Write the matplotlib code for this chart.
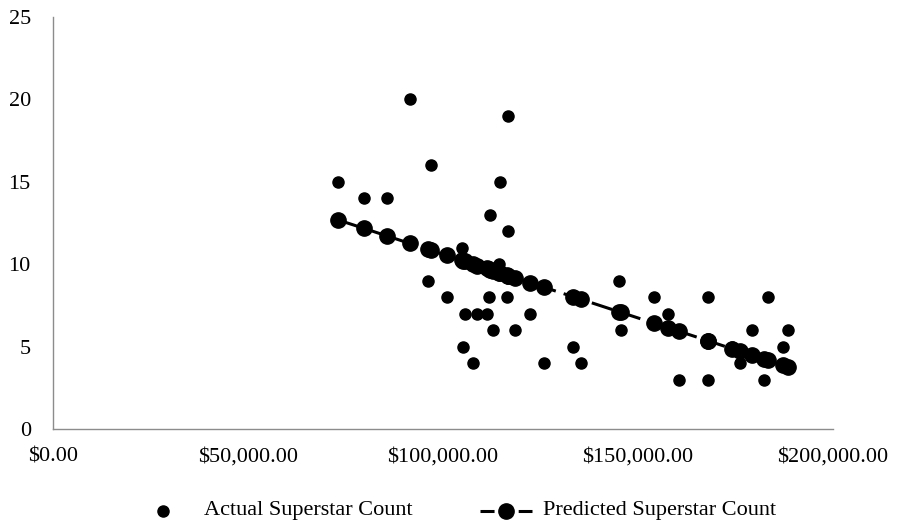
import matplotlib
matplotlib.use("Agg")
import matplotlib.pyplot as plt
from matplotlib.lines import Line2D
from matplotlib.ticker import FuncFormatter, MultipleLocator

# Salary (USD) per team and superstar counts
salary = [73150, 79800, 85700, 91500, 96200, 96900, 100900, 104900, 105050, 105600,
          107600, 108800, 111200, 111900, 112100, 112900, 114400, 114600, 116300, 116700,
          116700, 118500, 122300, 125900, 133300, 135400, 145050, 145600, 154100, 157700,
          160500, 167900, 168000, 174000, 176200, 179200, 182300, 183300, 187100, 188500]
actual = [15, 14, 14, 20, 9, 16, 8, 11, 5, 7,
          4, 7, 7, 8, 13, 6, 10, 15, 8, 12,
          19, 6, 7, 4, 5, 4, 9, 6, 8, 7,
          3, 8, 3, 5, 4, 6, 3, 8, 5, 6]
predicted = [12.68, 12.17, 11.71, 11.26, 10.90, 10.84, 10.53, 10.23, 10.21, 10.17,
             10.02, 9.92, 9.74, 9.68, 9.67, 9.61, 9.49, 9.48, 9.35, 9.31,
             9.31, 9.17, 8.88, 8.60, 8.03, 7.87, 7.12, 7.08, 6.42, 6.15,
             5.93, 5.36, 5.35, 4.88, 4.71, 4.48, 4.24, 4.16, 3.87, 3.76]

series_names = ["Actual Superstar Count", "Predicted Superstar Count"]

plt.rcParams["font.family"] = ["Liberation Serif", "DejaVu Serif"]
FS = 16

W, H = 906, 525
fig = plt.figure(figsize=(W / 100, H / 100), dpi=100)
ax = fig.add_axes([53 / W, 1 - 429 / H, (833 - 53) / W, (429 - 17) / H])

pred_style = dict(color="black", linestyle=(0, (7, 2.7)), linewidth=2.2,
                  marker="o", markersize=11)
act_style = dict(color="black", linestyle="none", marker="o", markersize=8)

ax.plot(salary, predicted, zorder=2, **pred_style)
ax.plot(salary, actual, zorder=3, **act_style)

ax.set_xlim(0, 200000)
ax.set_ylim(0, 25)
ax.xaxis.set_major_locator(MultipleLocator(50000))
ax.yaxis.set_major_locator(MultipleLocator(5))
ax.xaxis.set_major_formatter(FuncFormatter(lambda v, p: f"${v:,.2f}"))
ax.yaxis.set_major_formatter(FuncFormatter(lambda v, p: f"{v:.0f}"))
ax.tick_params(axis="both", length=0, labelsize=FS, colors="black")
ax.tick_params(axis="y", pad=16)
ax.tick_params(axis="x", pad=13)

for side in ("top", "right"):
    ax.spines[side].set_visible(False)
for side in ("left", "bottom"):
    ax.spines[side].set_color("#8c8c8c")
    ax.spines[side].set_linewidth(1.0)

# Legend drawn below the axes
ly = 1 - 511 / H
fig.add_artist(Line2D([163 / W], [ly], transform=fig.transFigure, **act_style))
fig.text(204 / W, ly, series_names[0], fontsize=FS, va="center", ha="left")
fig.add_artist(Line2D([480 / W, 532 / W], [ly, ly], transform=fig.transFigure,
                      color="black", linestyle=(0, (4.6, 7.9)), linewidth=2.2))
fig.add_artist(Line2D([506 / W], [ly], transform=fig.transFigure,
                      color="black", linestyle="none", marker="o", markersize=11))
fig.text(543 / W, ly, series_names[1], fontsize=FS, va="center", ha="left")

fig.savefig("out.png", dpi=100)
